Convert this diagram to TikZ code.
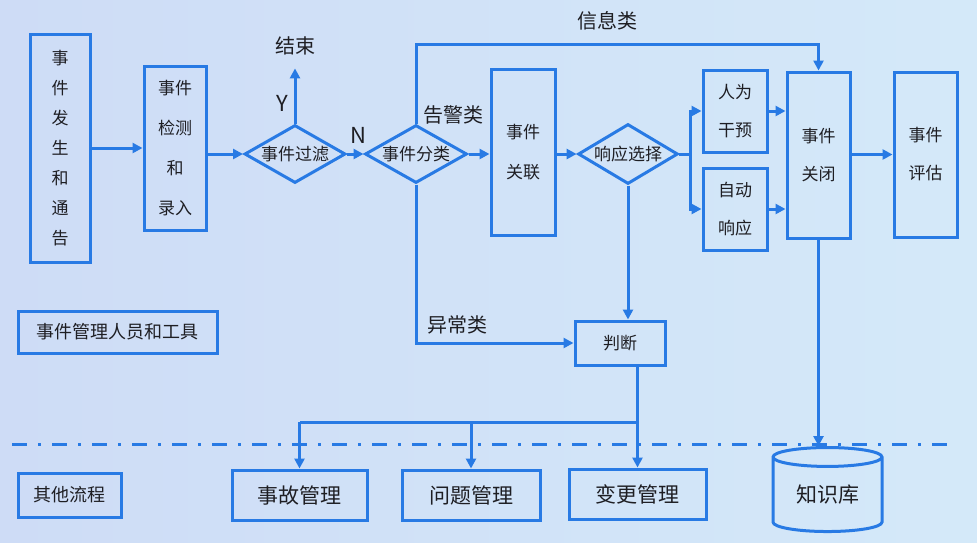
\documentclass[tikz,border=0pt]{standalone}
\usepackage{fontspec}
\setmainfont{Noto Sans CJK SC}
\usetikzlibrary{shapes.geometric,arrows.meta}
\definecolor{lineblue}{RGB}{40,122,228}
\definecolor{bgL}{RGB}{206,220,246}
\definecolor{bgR}{RGB}{212,233,249}
\definecolor{txt}{RGB}{30,30,35}
\tikzset{
  box/.style={draw=lineblue, line width=3pt, rectangle, inner sep=0pt, align=center, text=txt, font=\fontsize{17}{40}\selectfont},
  dia/.style={draw=lineblue, line width=3pt, diamond, aspect=2, inner sep=0pt, text=txt, font=\fontsize{17}{20}\selectfont},
  lbl/.style={text=txt, inner sep=0pt, font=\fontsize{20}{24}\selectfont},
  conn/.style={draw=lineblue, line width=3pt},
  arr/.style={conn, -{Triangle[length=10pt,width=10pt]}},
}
\begin{document}
\begin{tikzpicture}[x=1pt,y=-1pt]
\shade[left color=bgL, right color=bgR] (0,0) rectangle (977,542);
\useasboundingbox (0,0) rectangle (977,542);

% top row
\node[box, minimum width=60pt, minimum height=228pt, font=\fontsize{17}{30}\selectfont] (A) at (60,148) {事\\件\\发\\生\\和\\通\\告};
\node[box, minimum width=62pt, minimum height=164pt] (B) at (175,148) {事件\\检测\\和\\录入};
\node[dia, minimum width=101pt, minimum height=58pt] (D1) at (295,154) {事件过滤};
\node[dia, minimum width=102pt, minimum height=58pt] (D2) at (416,154) {事件分类};
\node[box, minimum width=64pt, minimum height=166pt] (Rel) at (523,152) {事件\\关联};
\node[dia, minimum width=96pt, minimum height=60pt] (D3) at (628,154) {响应选择};
\node[box, minimum width=64pt, minimum height=82pt, font=\fontsize{17}{38}\selectfont] (Man) at (735,111) {人为\\干预};
\node[box, minimum width=64pt, minimum height=82pt, font=\fontsize{17}{38}\selectfont] (Auto) at (735,209) {自动\\响应};
\node[box, minimum width=63pt, minimum height=166pt, font=\fontsize{17}{38}\selectfont] (Close) at (818.5,155) {事件\\关闭};
\node[box, minimum width=63pt, minimum height=165pt, font=\fontsize{17}{38}\selectfont] (Eval) at (925.5,154.5) {事件\\评估};

% middle
\node[box, minimum width=90pt, minimum height=44pt] (Judge) at (620,343) {判断};
\node[box, minimum width=199pt, minimum height=42pt, font=\fontsize{18}{22}\selectfont] (Tools) at (117.5,332) {事件管理人员和工具};

% bottom
\node[box, minimum width=103pt, minimum height=44pt, font=\fontsize{18}{22}\selectfont] (Other) at (69.5,495) {其他流程};
\node[box, minimum width=135pt, minimum height=50pt, font=\fontsize{21}{24}\selectfont] (Incident) at (299.5,495) {事故管理};
\node[box, minimum width=138pt, minimum height=50pt, font=\fontsize{21}{24}\selectfont] (Problem) at (471,495) {问题管理};
\node[box, minimum width=137pt, minimum height=50pt, font=\fontsize{21}{24}\selectfont] (Change) at (637.5,494) {变更管理};
\node[draw=lineblue, line width=3pt, cylinder, shape border rotate=90, aspect=0.3, minimum width=109pt, minimum height=84pt, inner sep=0pt, text=txt, font=\fontsize{21}{24}\selectfont] (KB) at (827.5,495) {知识库};

% labels
\node[lbl] (jieshu) at (295,46) {结束};
\node[lbl, font=\fontsize{22}{24}\selectfont] (Y) at (282,103) {Y};
\node[lbl, font=\fontsize{22}{24}\selectfont] (N) at (358,135) {N};
\node[lbl] (info) at (607,21) {信息类};
\node[lbl] (alarm) at (453,115) {告警类};
\node[lbl] (abn) at (457,325) {异常类};

% connectors
\draw[arr] (A.east |- B.west) -- (B.west);
\draw[arr] (D1.west -| B.east) -- (D1.west);
\draw[arr, shorten >=13pt] (D1.north) -- (jieshu.south);
\draw[arr] (D1.east) -- (D2.west);
\coordinate (infoY) at (0,44);
\draw[arr] (D2.north) -- (D2.north |- infoY) -| (Close.north);
\draw[arr] (D2.east) -- (D2.east -| Rel.west);
\draw[arr] (D3.west -| Rel.east) -- (D3.west);
\coordinate (split) at (690,154);
\draw[conn] (D3.east) -- (split);
\draw[arr] (split) |- (Man.west);
\draw[arr] (split) |- (Auto.west);
\draw[arr] (Man.east) -- (Man.east -| Close.west);
\draw[arr] (Auto.east) -- (Auto.east -| Close.west);
\draw[arr] (Close.east |- Eval.west) -- (Eval.west);
\draw[arr] (Close.south) -- (Close.south |- KB.north);
\draw[arr] (D3.south) -- (D3.south |- Judge.north);
\draw[arr] (D2.south) |- (Judge.west);

\coordinate (bus) at (0,422);
\draw[arr] (Change.north |- Judge.south) -- (Change.north);
\draw[conn] (Change.north |- bus) -- (Incident.north |- bus);
\draw[arr] (Incident.north |- bus) -- (Incident.north);
\draw[arr] (Problem.north |- bus) -- (Problem.north);

% separator
\coordinate (sepL) at (12,444);
\coordinate (sepR) at (956,444);
\draw[draw=lineblue, line width=3pt, dash pattern=on 15pt off 11pt on 3pt off 11pt] (sepL) -- (sepR);
\end{tikzpicture}
\end{document}
